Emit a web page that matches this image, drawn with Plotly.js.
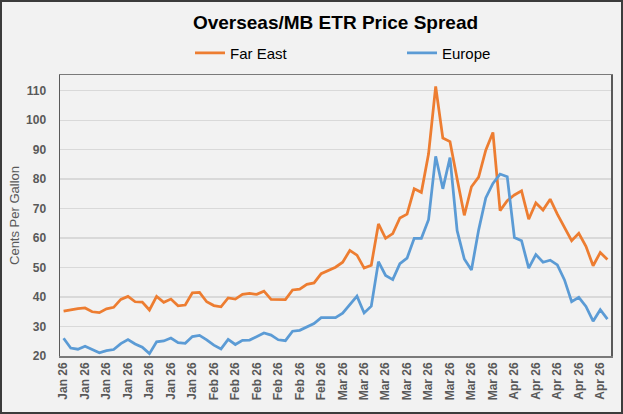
<!DOCTYPE html>
<html>
<head>
<meta charset="utf-8">
<script src="https://cdn.plot.ly/plotly-3.0.1.min.js"></script>
<style>
  html, body { margin: 0; padding: 0; background: #f2f2f2; }
  #wrap { position: relative; width: 623px; height: 414px; }
  #chart { width: 623px; height: 414px; }
  #wrap::after { content: ""; position: absolute; left: 0; top: 0; right: 0; bottom: 0;
    border: 2px solid #3c3c3c; pointer-events: none; }
</style>
</head>
<body>
<div id="wrap"><div id="chart"></div></div>
<script>
// Daily observations (index 0..76), tick label on every 3rd point
const farEast = [35.2, 35.7, 36.1, 36.3, 35.0, 34.7, 36.0, 36.5, 39.2, 40.2,
  38.4, 38.3, 35.6, 40.2, 38.2, 39.3, 37.0, 37.3, 41.4, 41.6,
  38.4, 37.1, 36.7, 39.7, 39.3, 40.9, 41.2, 40.9, 42.0, 39.2,
  39.1, 39.1, 42.4, 42.7, 44.3, 44.8, 47.9, 49.0, 50.1, 51.8,
  55.8, 54.2, 49.8, 50.8, 64.8, 59.9, 61.5, 66.8, 68.1, 76.7,
  75.5, 88.5, 111.4, 93.9, 92.7, 80.0, 67.7, 77.4, 80.7, 89.8,
  95.8, 69.3, 72.7, 74.6, 76.0, 66.4, 71.9, 69.5, 73.2, 68.1,
  63.6, 59.1, 61.6, 57.2, 50.6, 55.1, 52.7];
const europe = [26.0, 22.7, 22.3, 23.3, 22.2, 21.1, 21.8, 22.2, 24.2, 25.6,
  24.1, 23.0, 20.8, 24.8, 25.1, 26.1, 24.5, 24.3, 26.6, 27.0,
  25.5, 23.7, 22.4, 25.6, 23.9, 25.3, 25.4, 26.7, 27.8, 27.1,
  25.5, 25.2, 28.4, 28.7, 29.9, 31.0, 33.0, 33.0, 33.0, 34.5,
  37.3, 40.3, 34.6, 36.9, 52.0, 47.3, 45.9, 51.3, 53.2, 59.9,
  59.9, 66.2, 87.7, 76.7, 87.3, 62.5, 52.9, 49.2, 62.7, 73.6,
  78.5, 81.7, 80.8, 60.2, 59.1, 49.8, 54.4, 51.8, 52.5, 50.9,
  45.8, 38.4, 39.9, 36.8, 31.8, 35.7, 32.5];
const tickLabels = ["Jan 26", "Jan 26", "Jan 26", "Jan 26", "Jan 26", "Jan 26", "Jan 26",
  "Feb 26", "Feb 26", "Feb 26", "Feb 26", "Feb 26", "Feb 26",
  "Mar 26", "Mar 26", "Mar 26", "Mar 26", "Mar 26", "Mar 26", "Mar 26", "Mar 26",
  "Apr 26", "Apr 26", "Apr 26", "Apr 26", "Apr 26"];
const labelStep = 3;

const xIdx = farEast.map((_, i) => i);
const tickVals = tickLabels.map((_, k) => k * labelStep);

const traces = [
  { x: xIdx, y: farEast, name: "Far East", type: "scatter", mode: "lines",
    line: { color: "#ED7D31", width: 2.75 } },
  { x: xIdx, y: europe, name: "Europe", type: "scatter", mode: "lines",
    line: { color: "#5B9BD5", width: 2.75 } }
];

const FONT = "Liberation Sans, Arial, sans-serif";

const layout = {
  width: 623, height: 414,
  paper_bgcolor: "#f2f2f2", plot_bgcolor: "#f2f2f2",
  margin: { l: 60, r: 12, t: 75, b: 58, autoexpand: false },
  font: { family: FONT, color: "#595959" },
  title: { text: "<b>Overseas/MB ETR Price Spread</b>",
    font: { family: FONT, size: 19, color: "#000000" },
    x: 0.5, xref: "paper", xanchor: "center", y: 1 - 22 / 414, yanchor: "middle" },
  showlegend: true,
  legend: { orientation: "h", xref: "container", yref: "container",
    x: 190 / 623, xanchor: "left",
    y: 1 - 53 / 414, yanchor: "middle",
    font: { size: 15, color: "#000000", family: FONT },
    entrywidth: 167, entrywidthmode: "pixels", bgcolor: "rgba(0,0,0,0)", traceorder: "normal" },
  xaxis: {
    range: [-0.5, farEast.length - 0.5],
    tickmode: "array", tickvals: tickVals, ticktext: tickLabels,
    tickangle: -90, ticks: "",
    tickfont: { size: 12, color: "#595959", family: FONT, weight: "bold" },
    showgrid: false, zeroline: false,
    showline: true, linecolor: "#7a7a7a", linewidth: 1.5, mirror: true,
    fixedrange: true
  },
  yaxis: {
    range: [20, 115.3],
    tickmode: "linear", tick0: 20, dtick: 10,
    ticks: "", ticklabelstandoff: 10,
    tickfont: { size: 12, color: "#595959", family: FONT, weight: "bold" },
    showgrid: true, gridcolor: "#d9d9d9", gridwidth: 1.2,
    zeroline: false,
    showline: true, linecolor: "#5a5a5a", linewidth: 1.5, mirror: true,
    title: { text: "Cents Per Gallon", standoff: 3,
      font: { size: 13, color: "#595959", family: FONT } },
    fixedrange: true
  }
};

Plotly.newPlot("chart", traces, layout, { staticPlot: true, displayModeBar: false });
</script>
</body>
</html>
